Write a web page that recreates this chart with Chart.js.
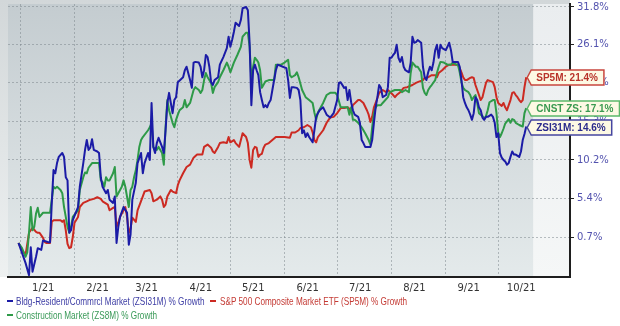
<!DOCTYPE html>
<html><head><meta charset="utf-8">
<script src="https://cdn.jsdelivr.net/npm/chart.js@4/dist/chart.umd.min.js"></script>
<style>
html,body{margin:0;padding:0;background:#fff;}
#wrap{position:relative;width:620px;height:326px;overflow:hidden;}
canvas{position:absolute;left:0;top:0;}
.lg{position:absolute;font-family:'Liberation Sans',Arial,sans-serif;font-size:11px;line-height:12px;white-space:nowrap;transform:scaleX(0.745);transform-origin:0 50%;}
.mk{position:absolute;width:6px;height:2px;}
</style></head>
<body><div id="wrap"><canvas id="c" width="620" height="326"></canvas><div id="legend"></div></div>
<script>
// ---- data (days since 2021-01-01, % growth) ----
const seriesNames = ['Bldg-Resident/Commrcl Market (ZSI31M) % Growth','S&P 500 Composite Market ETF (SP5M) % Growth','Construction Market (ZS8M) % Growth'];
const shortNames = ['ZSI31M','SP5M','CNST ZS'];
const monthDays = [0,31,59,90,120,151,181,212,243,273];
const monthLabels = ['1/21','2/21','3/21','4/21','5/21','6/21','7/21','8/21','9/21','10/21'];
const yTickVals = [0.7,5.4,10.2,15.3,20.6,26.1,31.8];
const yTickLabels = ['0.7%','5.4%','10.2%','15.3%','20.6%','26.1%','31.8%'];

const zsiDays = [-1,3,5,6,7,9,10,12,13,16,17,18,19,20,21,22,24,25,26,27,28,29,30,33,34,36,37,38,39,40,41,42,44,45,46,47,49,50,51,53,54,55,56,57,59,61,62,63,64,66,67,69,70,71,73,74,75,76,77,78,79,81,82,83,84,85,86,87,88,89,90,93,94,95,97,98,99,100,102,103,104,105,106,107,108,109,110,111,113,114,116,118,119,120,121,122,123,125,126,127,129,130,131,132,133,134,135,136,137,138,139,140,141,142,143,144,146,147,150,152,153,154,155,156,158,159,160,161,162,163,164,165,167,168,169,170,171,173,175,177,179,181,182,183,185,186,187,188,189,190,191,193,194,195,196,197,200,201,202,203,204,205,206,207,209,210,211,212,213,214,215,216,217,218,219,220,222,223,224,225,226,227,229,230,231,232,233,234,235,236,237,238,239,240,241,243,244,245,246,247,250,251,252,253,254,255,256,257,258,259,260,261,262,263,264,265,266,267,269,270,271,272,273,274,275,276,277,278,279,280,281,282,283,285,286,287,288,289];
const zsiVals = [0.0,-2.3,-3.7,-0.5,-3.3,-1.6,-0.6,-0.8,0.3,0.1,0.1,4.8,8.9,8.5,9.8,10.6,11.1,10.6,8.0,7.6,1.2,1.5,2.7,4.3,6.8,9.8,11.5,12.8,11.5,11.8,12.9,11.5,11.3,11.1,8.0,6.8,6.0,6.4,5.2,4.8,5.6,0.0,1.9,3.1,4.3,3.6,-0.2,1.0,5.2,7.3,9.8,11.1,8.5,9.8,11.1,10.2,17.8,11.9,11.1,12.4,13.1,11.9,11.1,14.1,17.8,19.2,17.8,16.4,18.2,18.6,20.7,21.4,22.4,22.9,21.0,19.9,23.5,23.6,23.5,22.9,21.4,22.4,24.6,24.3,22.9,20.7,20.3,21.0,21.4,23.2,24.3,25.6,27.3,25.8,26.8,28.0,29.4,28.9,29.8,31.6,31.8,31.3,26.4,17.5,22.4,23.2,22.4,21.7,19.3,18.2,17.2,17.5,17.2,17.8,18.2,19.6,22.4,23.2,22.9,22.7,21.0,18.5,20.0,20.0,19.9,19.6,18.2,13.7,14.1,13.2,13.7,13.2,12.5,14.1,15.9,16.4,16.8,17.2,16.2,15.8,16.4,18.2,20.6,20.7,19.9,20.0,18.2,19.6,17.9,16.8,16.2,15.9,15.1,12.8,12.4,11.9,11.9,12.8,15.1,17.2,18.6,20.3,19.9,18.6,18.9,20.0,24.2,24.2,24.6,24.9,26.1,24.2,23.6,24.3,22.9,22.4,22.1,23.5,27.3,26.4,26.5,26.8,26.4,22.9,21.4,21.0,22.1,22.9,22.4,23.5,25.3,26.1,24.2,26.1,25.6,25.3,25.8,26.4,25.3,23.6,23.6,22.9,21.0,18.6,17.8,17.2,16.8,16.2,15.5,16.4,18.6,18.2,17.2,16.8,15.8,15.5,15.9,15.9,16.2,15.9,15.1,13.2,13.7,11.1,10.5,10.2,10.0,9.6,9.8,10.6,11.3,10.9,10.9,10.6,11.3,12.8,13.6,14.6];

const spDays = [-1,1,3,5,6,7,9,10,11,13,14,15,17,18,19,21,23,24,25,26,27,28,29,30,31,33,34,36,38,40,42,44,46,47,50,51,53,54,55,56,57,59,60,61,62,63,64,66,67,70,71,74,75,76,78,80,81,82,83,84,86,87,89,90,91,93,95,97,99,101,104,105,107,109,110,111,113,114,116,118,119,120,122,123,125,127,129,130,131,132,133,134,135,136,137,138,139,140,142,144,146,149,151,154,155,157,159,160,162,164,166,167,168,169,170,173,175,177,179,181,183,185,187,189,190,193,194,196,198,199,200,201,202,203,204,205,207,209,210,213,214,215,217,219,221,224,226,227,230,231,233,235,237,238,239,241,243,245,247,249,250,251,252,253,254,255,257,258,259,260,261,262,263,264,265,266,267,270,271,272,273,274,275,276,277,278,279,280,281,282,283,284,285,286,287,288,289];
const spVals = [0.0,-0.8,-1.4,1.2,1.5,1.8,1.3,1.2,1.2,0.6,0.1,0.0,0.0,2.5,2.7,2.7,2.7,2.5,2.7,1.5,-0.1,-0.6,-0.5,0.7,2.4,3.1,4.3,4.8,5.0,5.2,5.3,5.5,5.3,5.0,4.6,3.9,4.2,4.3,1.9,2.4,3.1,3.9,4.3,3.1,1.2,1.7,3.0,2.5,3.9,5.6,6.2,6.4,6.0,5.0,5.2,5.6,5.2,4.3,4.6,5.6,6.4,6.2,6.0,7.0,7.6,8.5,9.3,9.6,10.5,10.9,10.9,11.9,12.2,11.8,11.3,11.1,11.9,12.4,12.5,12.4,13.2,12.5,12.8,12.4,11.9,13.7,13.2,12.4,10.2,9.2,11.5,11.9,11.8,10.6,10.9,11.0,11.8,12.2,12.4,12.8,13.2,13.2,13.2,13.1,13.8,13.8,14.1,14.4,14.5,14.8,14.5,13.8,12.8,12.5,13.2,14.1,15.1,15.8,15.9,16.4,17.1,17.1,17.2,16.8,17.5,18.2,18.2,17.8,16.8,16.2,15.2,15.9,17.2,17.8,18.5,19.2,19.6,19.3,19.6,18.9,18.6,18.9,19.3,19.9,20.0,20.3,20.6,20.7,21.0,21.3,21.4,21.7,21.7,21.4,22.0,22.4,22.9,23.2,23.2,23.2,23.2,22.7,22.1,21.4,21.0,21.0,21.3,21.4,21.3,20.3,19.6,18.9,18.2,18.6,19.6,20.6,21.0,20.7,20.0,18.6,17.8,17.6,17.4,17.8,17.2,16.8,17.5,18.2,19.2,19.3,18.9,18.6,18.2,17.9,18.2,20.0,21.4];

const cnDays = [-1,1,3,4,5,6,7,8,9,10,11,13,15,17,18,19,20,21,23,24,25,26,27,28,29,30,33,34,36,37,38,39,41,44,45,46,47,48,49,50,51,53,54,55,56,58,59,60,62,63,64,65,66,67,68,69,70,73,74,75,76,78,79,81,82,83,84,85,87,88,89,90,91,93,94,95,97,99,100,102,103,104,105,106,107,109,110,111,113,114,116,118,119,120,122,124,126,127,129,130,131,132,133,134,135,136,137,138,140,142,145,146,149,151,153,154,155,157,158,159,161,163,165,167,168,169,170,173,175,177,180,181,183,185,187,188,189,190,191,193,195,197,199,200,201,202,203,204,206,207,210,211,214,215,217,218,220,222,223,224,226,227,229,230,231,232,233,234,235,237,238,239,240,242,244,246,247,249,250,251,252,253,254,256,257,258,259,260,261,262,264,265,266,267,268,270,271,272,273,274,275,276,277,279,280,281,282,283,285,287,288,289];
const cnVals = [0.0,-0.6,-1.6,-1.1,1.2,4.3,1.5,1.9,3.5,4.2,3.1,3.6,3.6,3.6,5.2,6.8,6.6,6.8,6.4,6.0,4.3,3.1,1.9,1.2,1.9,3.1,3.9,6.4,8.0,8.6,8.5,9.2,9.8,9.8,9.8,7.6,7.4,6.8,8.0,7.6,7.6,8.5,9.3,5.6,6.0,6.8,7.6,6.8,4.3,6.4,6.8,8.0,8.9,10.2,11.9,12.8,13.2,14.1,14.5,15.1,11.9,11.5,11.9,11.1,9.6,14.5,18.2,16.8,15.1,14.5,15.5,16.2,16.8,17.2,18.2,17.2,17.8,19.6,20.0,19.6,19.2,19.6,21.0,22.0,21.4,20.6,19.2,20.0,20.7,21.4,22.4,23.5,22.9,22.1,23.5,24.6,25.8,27.3,27.9,27.9,25.8,21.0,22.9,24.2,23.9,23.5,22.4,19.9,20.8,21.0,21.0,23.2,23.2,23.5,23.9,21.7,21.4,21.7,22.1,21.4,19.6,18.6,18.2,17.8,16.5,15.5,16.5,17.8,18.9,19.2,19.2,18.9,17.2,17.2,17.2,16.2,17.2,15.5,15.5,15.1,14.5,13.7,12.8,12.2,14.5,16.4,17.2,17.5,17.5,17.8,18.6,19.3,19.6,19.6,19.6,19.3,19.6,19.3,22.0,23.5,22.9,22.9,22.1,19.9,19.2,18.9,19.6,20.0,20.3,21.0,22.0,22.9,23.6,23.5,23.2,23.2,23.5,23.2,23.2,22.1,20.7,19.9,19.6,19.3,18.9,18.2,18.6,18.9,17.8,16.4,16.0,15.6,16.0,16.8,17.9,18.2,18.2,16.4,13.8,13.2,13.7,14.3,15.0,15.6,15.1,15.6,15.5,15.1,14.8,14.6,16.4,17.1];

const seriesColors = ['#1b1ba6','#cc2a22','#2e9a48'];
const legendColors = ['#3c3ca4','#c43a34','#3a9a58'];
const calloutStroke = ['#4646a0','#c8463e','#5cb86a'];
const calloutText = ['#2a2a8c','#b8322a','#3a9a50'];

function pts(d, v){ return d.map((x,i)=>({x:x, y:100+v[i]})); }

const bgPlugin = {
  id:'bg',
  beforeDraw(chart){
    const {ctx, chartArea:a, scales} = chart;
    ctx.save();
    ctx.fillStyle = '#ffffff';
    ctx.fillRect(0,0,chart.width,chart.height);
    let g = ctx.createLinearGradient(0,0,0,a.bottom);
    g.addColorStop(0,'#d2d7d9'); g.addColorStop(1,'#eef1f1');
    ctx.fillStyle = g; ctx.fillRect(0,0,a.right,a.bottom);
    g = ctx.createLinearGradient(0,a.top,0,a.bottom);
    g.addColorStop(0,'#c4ccd0'); g.addColorStop(1,'#e4eaeb');
    ctx.fillStyle = g;
    const xe = scales.x.getPixelForValue(293);
    ctx.fillRect(a.left,a.top,xe-a.left,a.bottom-a.top);
    g = ctx.createLinearGradient(0,a.top,0,a.bottom);
    g.addColorStop(0,'#eaedef'); g.addColorStop(1,'#f5f7f7');
    ctx.fillStyle = g;
    ctx.fillRect(xe,a.top,a.right-xe,a.bottom-a.top);
    ctx.restore();
  }
};

const calloutPlugin = {
  id:'callouts',
  afterDatasetsDraw(chart){
    const {ctx, scales} = chart;
    const order = [1,2,0];
    ctx.save();
    order.forEach(i=>{
      const ds = chart.data.datasets[i];
      const last = ds.data[ds.data.length-1];
      const x = scales.x.getPixelForValue(last.x)+1;
      const y = Math.round(scales.y.getPixelForValue(last.y))+0.5;
      const text = shortNames[i]+': '+(last.y-100).toFixed(1)+'%';
      ctx.font = 'bold 10px "Liberation Sans", Arial, sans-serif';
      const w = ctx.measureText(text).width + 11;
      const h = 15, d = 4;
      const l = x + d, r = l + w, t = y - h/2, b = y + h/2;
      ctx.beginPath();
      ctx.moveTo(x,y); ctx.lineTo(l,t); ctx.lineTo(r,t); ctx.lineTo(r,b); ctx.lineTo(l,b); ctx.closePath();
      ctx.fillStyle = '#fdf9e4'; ctx.fill();
      ctx.lineWidth = 1.5; ctx.strokeStyle = calloutStroke[i]; ctx.stroke();
      ctx.fillStyle = calloutText[i]; ctx.textBaseline = 'middle'; ctx.textAlign = 'left';
      ctx.fillText(text, l+5, y+0.5);
    });
    ctx.restore();
  }
};

const chart = new Chart(document.getElementById('c'), {
  type:'line',
  data:{ datasets:[
    {label:seriesNames[0], data:pts(zsiDays,zsiVals), borderColor:seriesColors[0], order:0},
    {label:seriesNames[1], data:pts(spDays,spVals), borderColor:seriesColors[1], order:2},
    {label:seriesNames[2], data:pts(cnDays,cnVals), borderColor:seriesColors[2], order:1}
  ]},
  options:{
    responsive:false, animation:false, devicePixelRatio:1,
    layout:{padding:{left:8,top:4,right:0,bottom:32}},
    elements:{line:{borderWidth:2,tension:0,borderJoinStyle:'round'},point:{radius:0}},
    plugins:{legend:{display:false},tooltip:{enabled:false}},
    scales:{
      x:{type:'linear',min:-7,max:314,
        afterBuildTicks(s){ s.ticks = monthDays.map(v=>({value:v})); },
        afterFit(s){ s.height = 17; s.paddingLeft = 0; s.paddingRight = 0; },
        ticks:{autoSkip:false,maxRotation:0,labelOffset:23,padding:5,color:'#333',
          font:{family:'"DejaVu Sans", Verdana, sans-serif',size:10},
          callback:(v,i)=>monthLabels[i]},
        grid:{color:'rgba(120,130,135,0.5)',lineWidth:1,drawTicks:false},
        border:{display:true,color:'#1e1e1e',width:2,dash:[2,2]}
      },
      y:{type:'logarithmic',position:'right',min:96.1,max:132.26,
        afterBuildTicks(s){ s.ticks = yTickVals.map(v=>({value:100+v})); },
        afterFit(s){ s.width = 50; s.paddingTop = 0; s.paddingBottom = 0; },
        ticks:{padding:3,color:'#5252ae',font:{family:'"DejaVu Sans", Verdana, sans-serif',size:10},
          callback:(v,i)=>yTickLabels[i]},
        grid:{color:'rgba(120,130,135,0.5)',lineWidth:1,drawTicks:true,tickLength:4,tickColor:'#222',tickWidth:1},
        border:{display:true,color:'#1e1e1e',width:2,dash:[2,2]}
      }
    }
  },
  plugins:[bgPlugin,calloutPlugin]
});

// HTML legend
const lg = document.getElementById('legend');
const pos = [{mx:7,tx:16,y:301},{mx:210,tx:220,y:301},{mx:7,tx:16,y:315}];
seriesNames.forEach((n,i)=>{
  const m = document.createElement('div'); m.className='mk';
  m.style.left=pos[i].mx+'px'; m.style.top=(pos[i].y-1)+'px'; m.style.background=seriesColors[i];
  lg.appendChild(m);
  const t = document.createElement('div'); t.className='lg';
  t.style.left=pos[i].tx+'px'; t.style.top=(pos[i].y-6)+'px'; t.style.color=legendColors[i];
  t.textContent=n; lg.appendChild(t);
});
</script>
</body></html>
